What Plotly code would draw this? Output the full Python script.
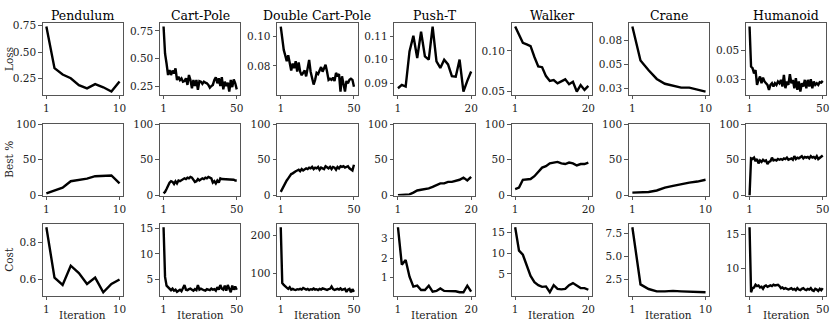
import plotly.graph_objects as go
from plotly.subplots import make_subplots

envs = ["Pendulum", "Cart-Pole", "Double Cart-Pole", "Push-T", "Walker", "Crane", "Humanoid"]
row_labels = ["Loss", "Best %", "Cost"]

########################## Loss ##########################
loss_pendulum = [0.74, 0.35, 0.29, 0.255, 0.19, 0.16, 0.20, 0.17, 0.13, 0.225]
loss_cartpole = [0.79, 0.545, 0.455, 0.35, 0.395, 0.35, 0.39, 0.365, 0.41, 0.305,
                 0.335, 0.305, 0.32, 0.29, 0.295, 0.32, 0.26, 0.35, 0.305, 0.23,
                 0.305, 0.25, 0.305, 0.215, 0.295, 0.29, 0.27, 0.29, 0.28, 0.275,
                 0.26, 0.235, 0.25, 0.26, 0.305, 0.33, 0.275, 0.32, 0.25, 0.33,
                 0.22, 0.29, 0.25, 0.28, 0.20, 0.305, 0.24, 0.31, 0.275, 0.22]
loss_double = [0.1086, 0.0986, 0.0886, 0.084, 0.079, 0.084, 0.076, 0.071, 0.077, 0.073,
               0.079, 0.070, 0.078, 0.070, 0.067, 0.069, 0.071, 0.066, 0.073, 0.080,
               0.070, 0.063, 0.059, 0.063, 0.069, 0.068, 0.071, 0.074, 0.070, 0.074,
               0.076, 0.070, 0.063, 0.064, 0.063, 0.065, 0.062, 0.069, 0.066, 0.068,
               0.053, 0.066, 0.060, 0.053, 0.062, 0.060, 0.063, 0.064, 0.063, 0.057]
loss_pusht = [0.0879, 0.0893, 0.0886, 0.1035, 0.1101, 0.1007, 0.1118, 0.1014, 0.100, 0.114,
              0.0993, 0.0965, 0.100, 0.098, 0.093, 0.0928, 0.100, 0.0865, 0.091, 0.095]
loss_walker = [0.130, 0.119, 0.110, 0.108, 0.106, 0.0925, 0.081, 0.080, 0.069, 0.063,
               0.064, 0.060, 0.063, 0.065, 0.059, 0.062, 0.050, 0.058, 0.052, 0.057]
loss_crane = [0.089, 0.054, 0.044, 0.035, 0.030, 0.028, 0.026, 0.026, 0.024, 0.022]
loss_humanoid = [0.071, 0.036, 0.0346, 0.030, 0.033, 0.020, 0.0244, 0.0273, 0.0215, 0.0264,
                 0.023, 0.0215, 0.020, 0.0157, 0.020, 0.0215, 0.0186, 0.0215, 0.020, 0.023,
                 0.0215, 0.0244, 0.0186, 0.0288, 0.0171, 0.023, 0.020, 0.0294, 0.0215, 0.0244,
                 0.0171, 0.0259, 0.0157, 0.023, 0.0142, 0.0215, 0.0186, 0.0244, 0.0171, 0.0244,
                 0.0186, 0.025, 0.0171, 0.023, 0.020, 0.0215, 0.020, 0.0224, 0.022, 0.0235]

########################## Best % ##########################
best_pendulum = [3, 7, 11, 20, 22, 23.5, 27, 27, 28, 17]
best_cartpole = [3, 5, 9, 14, 18, 20, 19, 16, 20, 17, 21, 20, 21, 22, 24, 23, 25, 24, 26, 25,
                 22, 19, 20, 23, 21, 22, 24, 23, 25, 24, 26, 25, 24, 18, 20, 17, 21, 18, 24, 23,
                 23, 22, 23, 23, 22, 22, 22, 22, 21, 21]
best_double = [5, 9, 14, 19, 21, 24, 28, 30, 31, 33, 34, 35, 36, 34, 37, 35, 36, 38, 37, 39,
               38, 40, 37, 39, 38, 40, 36, 39, 38, 37, 41, 39, 38, 40, 37, 40, 39, 36, 40, 38,
               41, 40, 41, 39, 40, 41, 38, 36, 35, 43]
best_pusht = [0.5, 0.5, 1, 1.5, 4, 7, 8, 8.5, 10, 12, 14, 17, 17, 19, 19, 20, 22, 25, 21, 26]
best_walker = [9, 11, 22, 23, 23, 27, 33, 39, 41, 45, 46, 47, 45, 44, 46, 45, 42, 44, 44, 46]
best_crane = [4, 4.5, 5, 7, 11, 13.5, 16, 18, 19.5, 22]
best_humanoid = [0, 52, 51, 53, 48, 51, 45, 49, 47, 50, 48, 49, 44, 47, 48, 53, 49, 50, 49, 51,
                 50, 51, 50, 52, 51, 53, 50, 51, 52, 50, 55, 51, 53, 52, 54, 55, 52, 54, 53, 54,
                 52, 55, 53, 54, 52, 55, 51, 53, 55, 56]

########################## Cost ##########################
cost_pendulum = [0.885, 0.61, 0.57, 0.675, 0.635, 0.575, 0.61, 0.53, 0.575, 0.60]
cost_cartpole = [15.2, 5.5, 3.8, 3.5, 3.0, 2.9, 3.2, 2.8, 3.0, 2.6, 2.8, 3.0, 2.7, 3.3, 3.9,
                 3.0, 2.9, 3.1, 3.2, 3.0, 2.8, 3.1, 2.9, 3.9, 3.0, 3.2, 3.0, 2.9, 2.8, 3.1,
                 3.0, 2.9, 3.2, 3.0, 3.1, 2.8, 3.5, 3.0, 3.9, 3.2, 3.0, 3.8, 2.8, 3.9, 3.2,
                 2.5, 3.8, 3.0, 3.6, 3.0]
cost_double = [221, 75, 70, 65, 63, 60, 64, 58, 60, 58, 57, 59, 58, 60, 58, 62, 59, 58, 60, 57,
               59, 58, 61, 58, 59, 57, 60, 58, 61, 59, 58, 57, 59, 60, 66, 59, 57, 58, 60, 58,
               61, 57, 59, 60, 52, 58, 60, 51, 59, 52]
cost_pusht = [3.6, 1.65, 1.9, 1.03, 0.51, 0.56, 0.34, 0.34, 0.56, 0.25,
              0.29, 0.42, 0.29, 0.29, 0.29, 0.27, 0.22, 0.22, 0.56, 0.25]
cost_walker = [16.2, 10.6, 9.6, 7.2, 4.5, 3.0, 2.3, 1.9, 2.0, 0.6,
               2.3, 1.4, 1.3, 1.4, 2.3, 2.8, 2.1, 1.6, 1.6, 1.2]
cost_crane = [8.2, 2.0, 1.5, 1.25, 1.25, 1.3, 1.25, 1.2, 1.15, 1.15]
cost_humanoid = [16.0, 6.5, 7.1, 7.2, 7.6, 7.4, 7.5, 7.2, 7.3, 7.0, 7.4, 7.5, 7.3, 7.4, 7.5,
                 7.4, 7.6, 7.5, 7.6, 7.6, 7.4, 7.1, 7.2, 7.0, 7.1, 7.0, 6.9, 7.0, 7.1, 6.9,
                 7.0, 6.8, 7.1, 6.9, 6.8, 7.0, 7.1, 6.9, 6.8, 7.0, 6.9, 7.1, 6.8, 6.7, 7.0,
                 6.9, 6.7, 7.0, 6.8, 7.1]

# y tick values / labels per panel
loss_tickvals = [[0.25, 0.5, 0.75], [0.25, 0.5, 0.75], [0.05, 0.075, 0.10], [0.09, 0.10, 0.11],
                 [0.05, 0.10], [0.025, 0.05, 0.075], [0.025, 0.05]]
loss_ticktext = [["0.25", "0.50", "0.75"], ["0.25", "0.50", "0.75"], ["0.05", "0.08", "0.10"],
                 ["0.09", "0.10", "0.11"], ["0.05", "0.10"], ["0.03", "0.05", "0.08"], ["0.03", "0.05"]]
best_tickvals = [0, 50, 100]
cost_tickvals = [[0.6, 0.8], [5, 10, 15], [100, 200], [1, 2, 3], [5, 10, 15], [2.5, 5.0, 7.5], [10, 15]]
cost_ticktext = [["0.6", "0.8"], ["5", "10", "15"], ["100", "200"], ["1", "2", "3"],
                 ["5", "10", "15"], ["2.5", "5.0", "7.5"], ["10", "15"]]

loss_data = [loss_pendulum, loss_cartpole, loss_double, loss_pusht, loss_walker, loss_crane, loss_humanoid]
best_data = [best_pendulum, best_cartpole, best_double, best_pusht, best_walker, best_crane, best_humanoid]
cost_data = [cost_pendulum, cost_cartpole, cost_double, cost_pusht, cost_walker, cost_crane, cost_humanoid]

W, H = 830, 332
FONT = "DejaVu Serif"
FRAME = "#555555"

fig = make_subplots(rows=3, cols=7)

col_left = [42.7 + 117.2 * c for c in range(7)]
col_w = 80.5
row_top = [23.3, 124, 224]
row_h = 71.5


def pad_range(vals):
    lo, hi = min(vals), max(vals)
    p = 0.05 * (hi - lo)
    return [lo - p, hi + p]


for c in range(7):
    for r, data in enumerate([loss_data, best_data, cost_data]):
        ys = data[c]
        n = len(ys)
        xs = list(range(1, n + 1))
        fig.add_trace(go.Scatter(x=xs, y=ys, mode="lines",
                                 line=dict(color="black", width=2.4),
                                 showlegend=False), row=r + 1, col=c + 1)
        fig.update_xaxes(domain=[col_left[c] / W, (col_left[c] + col_w) / W],
                         range=[1 - 0.05 * (n - 1), n + 0.05 * (n - 1)],
                         tickvals=[1, n], row=r + 1, col=c + 1)
        yd = [1 - (row_top[r] + row_h) / H, 1 - row_top[r] / H]
        if r == 0:
            fig.update_yaxes(domain=yd, range=pad_range(ys), tickvals=loss_tickvals[c],
                             ticktext=loss_ticktext[c], row=1, col=c + 1)
        elif r == 1:
            fig.update_yaxes(domain=yd, range=[0, 100], tickvals=best_tickvals, row=2, col=c + 1)
        else:
            fig.update_yaxes(domain=yd, range=pad_range(ys), tickvals=cost_tickvals[c],
                             ticktext=cost_ticktext[c], row=3, col=c + 1)

axis_style = dict(showline=True, mirror=True, linecolor=FRAME, linewidth=1, showgrid=False,
                  zeroline=False, ticks="outside", ticklen=3.5, tickwidth=0.8, tickcolor=FRAME,
                  automargin=False, tickfont=dict(family=FONT, size=10.5, color="#222"))
fig.update_xaxes(**axis_style)
fig.update_yaxes(**axis_style)

annotations = []
for c, name in enumerate(envs):
    cx = (col_left[c] + col_w / 2) / W
    annotations.append(dict(text=name, x=cx, y=1 - 25 / H, xref="paper", yref="paper",
                            xanchor="center", yanchor="bottom", showarrow=False,
                            font=dict(family=FONT, size=12.5, color="black")))
    annotations.append(dict(text="Iteration", x=cx, y=1 - 315 / H, xref="paper",
                            yref="paper", xanchor="center", yanchor="middle", showarrow=False,
                            font=dict(family=FONT, size=10.5, color="#222")))
for r, lab in enumerate(row_labels):
    annotations.append(dict(text=lab, x=9 / W, y=1 - (row_top[r] + row_h / 2) / H,
                            xref="paper", yref="paper", xanchor="center", yanchor="middle",
                            textangle=-90, showarrow=False,
                            font=dict(family=FONT, size=10.5, color="#222")))

fig.update_layout(width=W, height=H, margin=dict(l=0, r=0, t=0, b=0),
                  plot_bgcolor="white", paper_bgcolor="white", annotations=annotations)

# drop the page's default body margin so the figure sits at the top-left corner
fig.write_html("out.html", config={"displayModeBar": False},
               post_script="document.body.style.margin='0';")
